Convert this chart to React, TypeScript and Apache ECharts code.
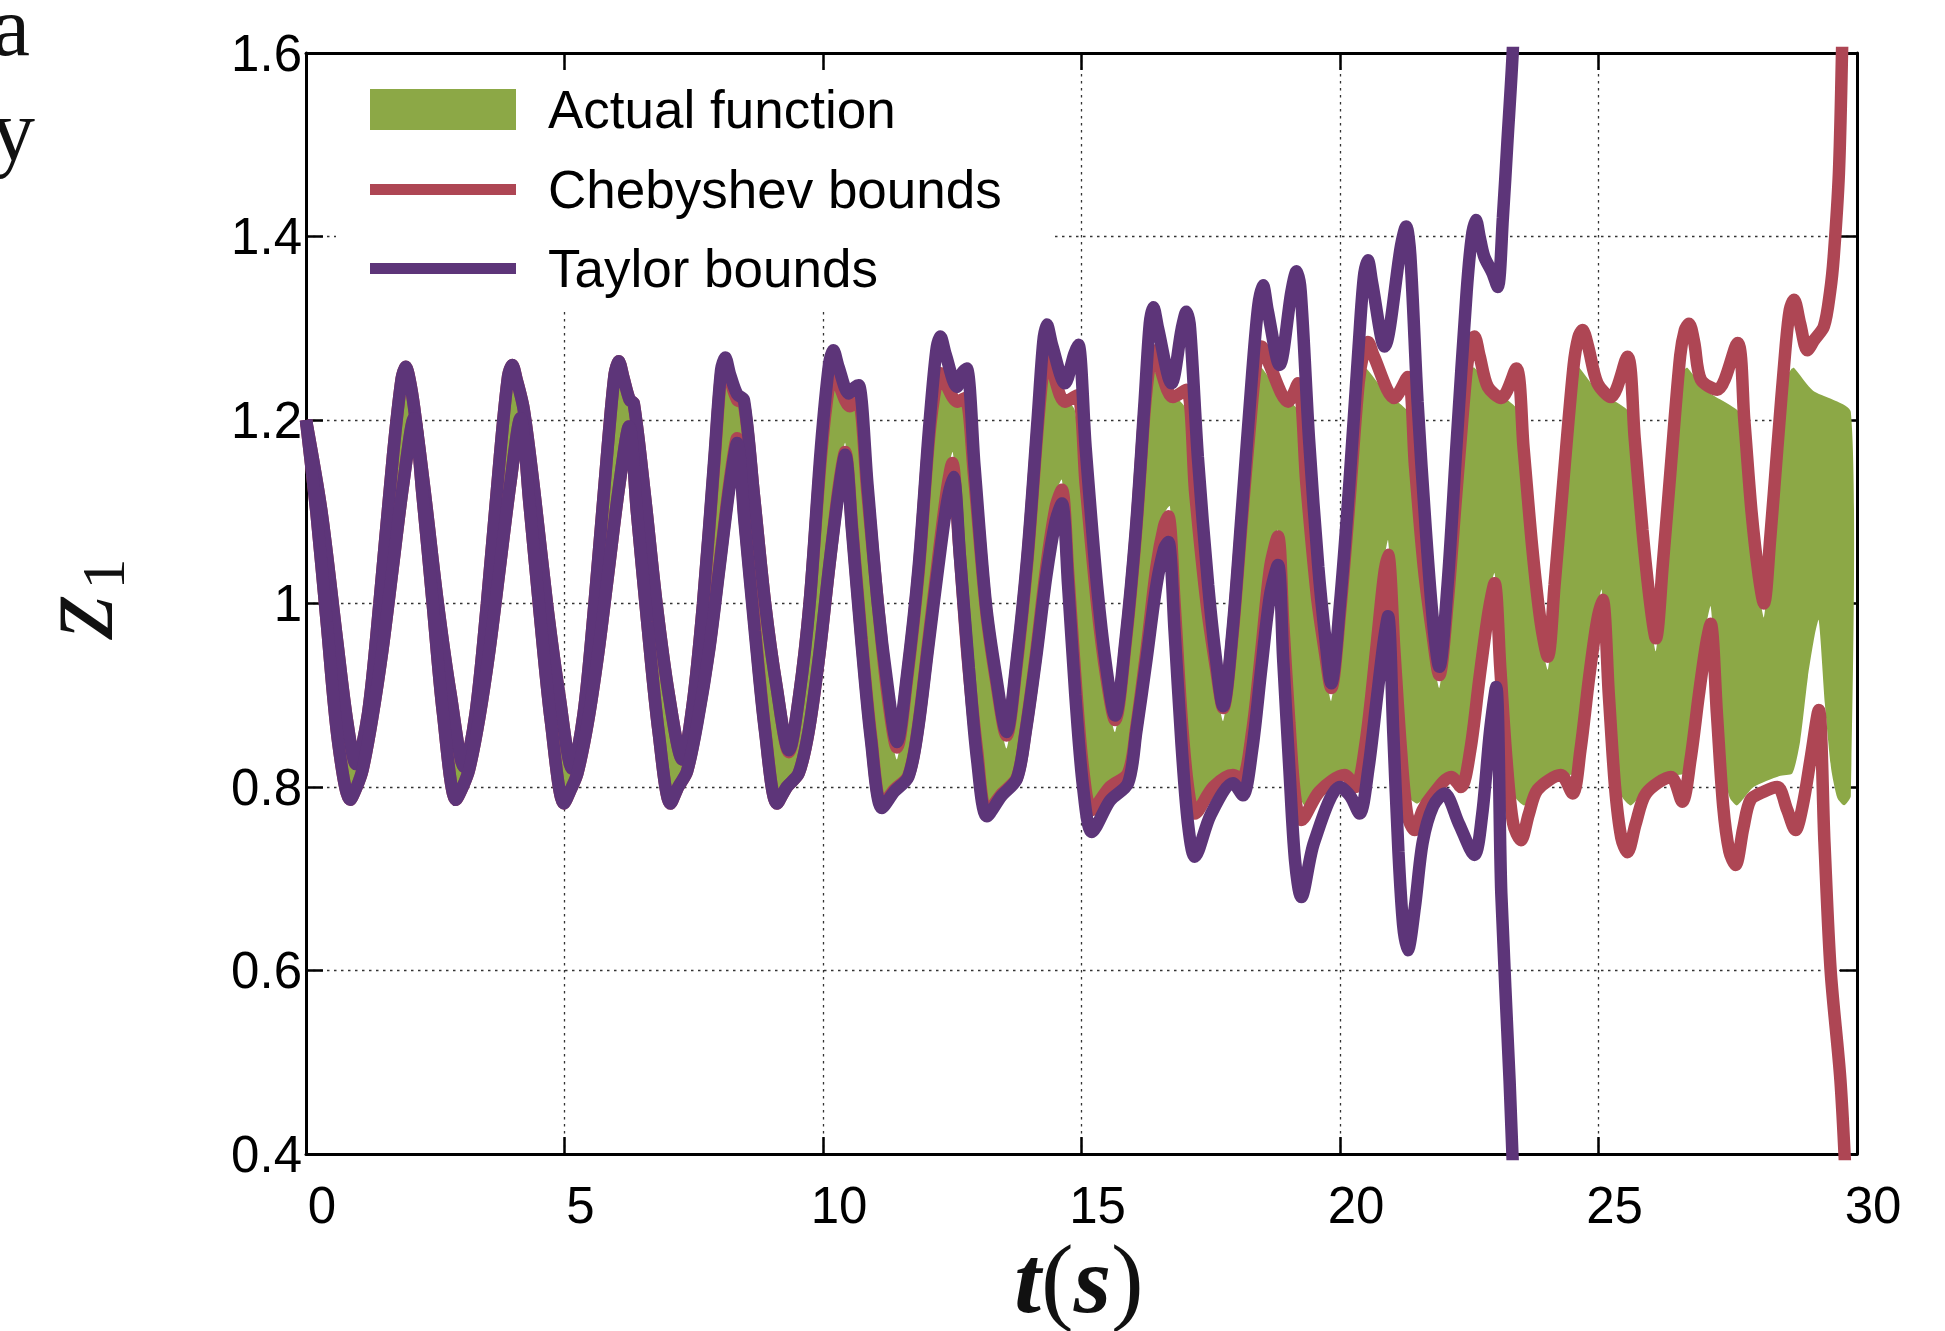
import React, { useEffect, useRef } from 'react';
import * as echarts from 'echarts';

const GREEN = '#8ca846';
const RED = '#ae4654';
const PURPLE = '#5d3579';

const legendNames = ['Actual function', 'Chebyshev bounds', 'Taylor bounds'];
const xTitle = ['t', '(', 's', ')'];

// shared early part (all upper bounds coincide)
const upperEarly = [
  [0, 1.2], [0.3, 1.1], [0.6, 0.96], [0.8, 0.87], [0.966, 0.825],
  [1.2, 0.88], [1.42, 1.0], [1.68, 1.16], [1.85, 1.245], [1.93, 1.258], [2.0, 1.245], [2.09, 1.214],
  [2.3, 1.12], [2.55, 1.0], [2.8, 0.9], [3.06, 0.822],
  [3.28, 0.88], [3.5, 1.0], [3.75, 1.16], [3.91, 1.248], [3.99, 1.26], [4.07, 1.245], [4.21, 1.212],
  [4.42, 1.12], [4.66, 1.0], [4.9, 0.9], [5.15, 0.82],
  [5.37, 0.88], [5.58, 1.0], [5.82, 1.16], [5.97, 1.25], [6.05, 1.264], [6.14, 1.246], [6.26, 1.222], [6.34, 1.218],
  [6.55, 1.12], [6.78, 1.0], [7.02, 0.9], [7.28, 0.83],
];

// shared early part (all lower bounds coincide)
const lowerEarly = [
  [0, 1.2], [0.2, 1.1], [0.4, 0.98], [0.62, 0.85], [0.856, 0.786], [0.98, 0.8], [1.095, 0.819],
  [1.28, 0.875], [1.48, 0.95], [1.68, 1.04], [1.88, 1.13], [2.09, 1.202],
  [2.25, 1.12], [2.45, 1.0], [2.65, 0.88], [2.9, 0.786], [3.03, 0.8], [3.155, 0.819],
  [3.35, 0.875], [3.55, 0.95], [3.75, 1.04], [3.95, 1.13], [4.15, 1.202],
  [4.32, 1.11], [4.52, 0.99], [4.74, 0.87], [4.99, 0.782], [5.12, 0.797], [5.25, 0.815],
  [5.45, 0.87], [5.65, 0.945], [5.85, 1.035], [6.05, 1.125], [6.25, 1.193],
  [6.4, 1.1], [6.6, 0.98], [6.82, 0.86], [7.05, 0.782], [7.2, 0.8], [7.37, 0.817],
];

const taylorUpperLate = [
  [7.48, 0.89], [7.68, 1.0], [7.9, 1.16], [8.03, 1.255], [8.11, 1.268], [8.2, 1.25], [8.34, 1.228], [8.47, 1.222],
  [8.66, 1.12], [8.88, 1.0], [9.1, 0.91], [9.34, 0.84],
  [9.54, 0.9], [9.74, 1.0], [9.96, 1.17], [10.12, 1.262], [10.2, 1.276], [10.3, 1.258], [10.5, 1.229], [10.62, 1.236], [10.69, 1.238],
  [10.86, 1.13], [11.06, 1.0], [11.25, 0.91], [11.43, 0.849],
  [11.62, 0.92], [11.85, 1.04], [12.05, 1.19], [12.19, 1.275], [12.27, 1.291], [12.37, 1.272], [12.59, 1.236], [12.7, 1.252], [12.78, 1.256],
  [12.93, 1.15], [13.15, 1.0], [13.35, 0.92], [13.55, 0.86],
  [13.73, 0.93], [13.95, 1.05], [14.15, 1.2], [14.26, 1.285], [14.33, 1.304], [14.43, 1.282], [14.68, 1.24], [14.86, 1.272], [14.94, 1.282],
  [15.08, 1.17], [15.3, 1.02], [15.48, 0.93], [15.65, 0.878],
  [15.85, 0.96], [16.05, 1.08], [16.22, 1.22], [16.32, 1.305], [16.39, 1.323], [16.48, 1.3], [16.74, 1.24], [16.94, 1.3], [17.03, 1.318], [17.1, 1.3],
  [17.25, 1.16], [17.45, 1.02], [17.6, 0.94], [17.74, 0.888],
  [17.92, 0.97], [18.1, 1.1], [18.3, 1.25], [18.42, 1.325], [18.51, 1.347], [18.6, 1.32], [18.83, 1.26], [19.06, 1.34], [19.16, 1.362], [19.24, 1.34],
  [19.4, 1.18], [19.58, 1.04], [19.72, 0.96], [19.83, 0.913],
  [20.0, 1.0], [20.18, 1.13], [20.36, 1.28], [20.46, 1.355], [20.54, 1.374], [20.62, 1.35], [20.86, 1.28], [21.18, 1.39], [21.28, 1.411], [21.36, 1.38],
  [21.5, 1.22], [21.66, 1.08], [21.8, 0.98], [21.92, 0.931],
  [22.08, 1.02], [22.25, 1.17], [22.45, 1.34], [22.55, 1.4], [22.63, 1.418], [22.7, 1.4], [22.79, 1.378], [22.95, 1.36], [23.05, 1.345],
  [23.15, 1.42], [23.24, 1.505], [23.34, 1.6], [23.45, 1.75], [23.55, 1.9],
];

const taylorLowerLate = [
  [7.57, 0.87], [7.8, 0.95], [8.0, 1.04], [8.2, 1.13], [8.34, 1.175],
  [8.48, 1.09], [8.68, 0.97], [8.88, 0.86], [9.11, 0.782], [9.3, 0.8], [9.53, 0.815],
  [9.72, 0.86], [9.92, 0.94], [10.12, 1.04], [10.3, 1.12], [10.43, 1.162],
  [10.56, 1.08], [10.74, 0.96], [10.93, 0.85], [11.14, 0.777], [11.38, 0.795], [11.65, 0.811],
  [11.83, 0.86], [12.03, 0.95], [12.23, 1.04], [12.4, 1.11], [12.52, 1.138],
  [12.65, 1.05], [12.82, 0.93], [12.98, 0.83], [13.17, 0.768], [13.45, 0.79], [13.75, 0.809],
  [13.92, 0.86], [14.12, 0.94], [14.32, 1.03], [14.5, 1.09], [14.62, 1.109],
  [14.74, 1.02], [14.88, 0.9], [15.03, 0.8], [15.2, 0.751], [15.55, 0.785], [15.9, 0.804],
  [16.06, 0.86], [16.26, 0.94], [16.45, 1.02], [16.6, 1.06], [16.68, 1.067],
  [16.8, 0.97], [16.93, 0.85], [17.06, 0.76], [17.19, 0.724], [17.5, 0.77], [17.93, 0.804], [18.12, 0.791],
  [18.3, 0.84], [18.48, 0.93], [18.65, 1.01], [18.8, 1.042],
  [18.9, 0.94], [19.02, 0.82], [19.13, 0.72], [19.25, 0.68], [19.5, 0.74], [20.0, 0.8], [20.2, 0.79], [20.38, 0.771],
  [20.55, 0.82], [20.72, 0.9], [20.85, 0.96], [20.93, 0.986],
  [21.03, 0.86], [21.13, 0.73], [21.22, 0.65], [21.31, 0.622], [21.45, 0.67], [21.6, 0.74], [21.8, 0.779], [22.02, 0.793], [22.3, 0.76], [22.6, 0.726],
  [22.75, 0.77], [22.9, 0.86], [23.02, 0.909], [23.12, 0.684], [23.28, 0.48], [23.4, 0.3],
];

const chebUpperLate = [
  [7.48, 0.89], [7.68, 1.0], [7.9, 1.155], [8.03, 1.25], [8.11, 1.262], [8.2, 1.245], [8.34, 1.222], [8.47, 1.218],
  [8.66, 1.12], [8.88, 1.0], [9.1, 0.91], [9.34, 0.838],
  [9.54, 0.9], [9.74, 1.0], [9.96, 1.16], [10.12, 1.24], [10.2, 1.254], [10.3, 1.24], [10.52, 1.215], [10.62, 1.219], [10.69, 1.22],
  [10.86, 1.12], [11.06, 1.0], [11.25, 0.9], [11.43, 0.843],
  [11.62, 0.915], [11.85, 1.035], [12.05, 1.18], [12.19, 1.24], [12.27, 1.251], [12.37, 1.24], [12.6, 1.22], [12.75, 1.224],
  [12.92, 1.14], [13.15, 0.995], [13.35, 0.915], [13.55, 0.856],
  [13.73, 0.925], [13.95, 1.045], [14.15, 1.19], [14.26, 1.255], [14.33, 1.269], [14.43, 1.255], [14.68, 1.22], [14.92, 1.227],
  [15.08, 1.13], [15.3, 1.0], [15.48, 0.92], [15.65, 0.873],
  [15.85, 0.955], [16.05, 1.075], [16.22, 1.21], [16.32, 1.262], [16.39, 1.276], [16.5, 1.26], [16.77, 1.225], [17.03, 1.233],
  [17.2, 1.12], [17.42, 1.0], [17.6, 0.93], [17.74, 0.886],
  [17.92, 0.965], [18.1, 1.09], [18.3, 1.22], [18.4, 1.27], [18.48, 1.28], [18.6, 1.265], [19.0, 1.22], [19.19, 1.24],
  [19.35, 1.13], [19.55, 1.01], [19.7, 0.95], [19.83, 0.908],
  [20.0, 0.99], [20.18, 1.11], [20.36, 1.24], [20.46, 1.275], [20.54, 1.285], [20.65, 1.27], [21.05, 1.224], [21.31, 1.247],
  [21.45, 1.15], [21.62, 1.04], [21.78, 0.97], [21.92, 0.922],
  [22.08, 1.0], [22.25, 1.12], [22.45, 1.255], [22.53, 1.283], [22.6, 1.291], [22.7, 1.27], [22.86, 1.236], [23.12, 1.224], [23.41, 1.256],
  [23.55, 1.17], [23.72, 1.06], [23.88, 0.98], [24.02, 0.942],
  [24.15, 1.02], [24.33, 1.14], [24.52, 1.26], [24.61, 1.29], [24.69, 1.298], [24.8, 1.28], [24.98, 1.24], [25.24, 1.225], [25.56, 1.269],
  [25.7, 1.18], [25.85, 1.08], [26.0, 1.0], [26.11, 0.962],
  [26.24, 1.04], [26.4, 1.15], [26.58, 1.27], [26.67, 1.298], [26.75, 1.305], [26.85, 1.285], [26.98, 1.244], [27.3, 1.233], [27.69, 1.284],
  [27.82, 1.2], [27.96, 1.1], [28.1, 1.03], [28.2, 1.0],
  [28.32, 1.07], [28.46, 1.17], [28.62, 1.28], [28.7, 1.32], [28.78, 1.331], [28.9, 1.305], [29.04, 1.276], [29.17, 1.287], [29.36, 1.302],
  [29.48, 1.34], [29.55, 1.378], [29.65, 1.469], [29.71, 1.6], [29.8, 1.85],
];

const chebLowerLate = [
  [7.57, 0.872], [7.8, 0.952], [8.0, 1.043], [8.2, 1.135], [8.34, 1.18],
  [8.48, 1.095], [8.68, 0.975], [8.88, 0.862], [9.11, 0.782], [9.3, 0.8], [9.53, 0.815],
  [9.72, 0.86], [9.92, 0.94], [10.12, 1.04], [10.3, 1.125], [10.43, 1.165],
  [10.56, 1.085], [10.74, 0.965], [10.93, 0.855], [11.14, 0.78], [11.38, 0.797], [11.65, 0.812],
  [11.83, 0.862], [12.03, 0.955], [12.23, 1.05], [12.4, 1.125], [12.5, 1.153],
  [12.63, 1.065], [12.8, 0.94], [12.98, 0.84], [13.17, 0.772], [13.45, 0.792], [13.75, 0.81],
  [13.92, 0.862], [14.12, 0.945], [14.32, 1.04], [14.5, 1.105], [14.62, 1.124],
  [14.74, 1.035], [14.88, 0.92], [15.03, 0.82], [15.2, 0.775], [15.55, 0.8], [15.9, 0.815],
  [16.06, 0.865], [16.26, 0.95], [16.45, 1.04], [16.6, 1.085], [16.68, 1.095],
  [16.8, 1.0], [16.93, 0.88], [17.06, 0.8], [17.19, 0.771], [17.55, 0.8], [17.93, 0.813], [18.1, 0.808],
  [18.3, 0.86], [18.48, 0.95], [18.65, 1.04], [18.8, 1.073],
  [18.9, 0.98], [19.02, 0.87], [19.13, 0.79], [19.25, 0.764], [19.6, 0.795], [20.09, 0.813], [20.3, 0.8],
  [20.5, 0.85], [20.7, 0.95], [20.85, 1.03], [20.93, 1.053],
  [21.05, 0.95], [21.18, 0.84], [21.3, 0.77], [21.44, 0.753], [21.6, 0.775], [21.76, 0.789], [22.15, 0.811], [22.34, 0.8],
  [22.52, 0.84], [22.7, 0.92], [22.87, 0.99], [22.99, 1.022],
  [23.1, 0.93], [23.22, 0.83], [23.35, 0.76], [23.5, 0.742], [23.65, 0.77], [23.82, 0.797], [24.27, 0.813], [24.5, 0.793],
  [24.65, 0.84], [24.82, 0.92], [24.97, 0.98], [25.08, 1.004],
  [25.2, 0.9], [25.32, 0.8], [25.44, 0.745], [25.56, 0.729], [25.72, 0.76], [25.92, 0.793], [26.4, 0.811], [26.62, 0.784],
  [26.78, 0.83], [26.94, 0.9], [27.08, 0.955], [27.17, 0.978],
  [27.29, 0.88], [27.41, 0.78], [27.53, 0.73], [27.65, 0.715], [27.8, 0.755], [27.94, 0.786], [28.2, 0.795], [28.46, 0.8], [28.65, 0.775], [28.81, 0.753],
  [28.95, 0.78], [29.1, 0.83], [29.26, 0.884], [29.37, 0.74], [29.49, 0.6], [29.68, 0.48], [29.8, 0.35],
];

const actualUpperLate = [
  [7.48, 0.89], [7.68, 1.0], [7.9, 1.155], [8.03, 1.245], [8.11, 1.255], [8.2, 1.24], [8.47, 1.215],
  [8.66, 1.115], [8.88, 0.995], [9.1, 0.905], [9.34, 0.835],
  [9.54, 0.895], [9.76, 1.0], [9.98, 1.15], [10.12, 1.228], [10.2, 1.244], [10.4, 1.228], [10.67, 1.211],
  [10.84, 1.11], [11.04, 0.99], [11.25, 0.885], [11.43, 0.83],
  [11.62, 0.9], [11.85, 1.02], [12.05, 1.165], [12.19, 1.235], [12.27, 1.245], [12.45, 1.23], [12.78, 1.208],
  [12.92, 1.12], [13.14, 0.985], [13.35, 0.9], [13.55, 0.842],
  [13.73, 0.91], [13.95, 1.03], [14.15, 1.175], [14.26, 1.24], [14.33, 1.249], [14.55, 1.232], [14.87, 1.211],
  [15.06, 1.1], [15.29, 0.99], [15.48, 0.905], [15.65, 0.86],
  [15.85, 0.94], [16.05, 1.06], [16.22, 1.195], [16.32, 1.245], [16.39, 1.254], [16.65, 1.235], [17.03, 1.211],
  [17.18, 1.1], [17.41, 0.99], [17.6, 0.915], [17.74, 0.872],
  [17.92, 0.95], [18.1, 1.075], [18.3, 1.205], [18.4, 1.25], [18.48, 1.257], [18.8, 1.232], [19.22, 1.208],
  [19.34, 1.11], [19.54, 1.0], [19.7, 0.935], [19.83, 0.894],
  [20.0, 0.975], [20.18, 1.095], [20.36, 1.225], [20.45, 1.252], [20.51, 1.256], [20.85, 1.232], [21.34, 1.207],
  [21.44, 1.13], [21.61, 1.025], [21.78, 0.955], [21.92, 0.908],
  [22.08, 0.985], [22.25, 1.105], [22.45, 1.24], [22.55, 1.256], [22.6, 1.257], [22.95, 1.235], [23.47, 1.209],
  [23.55, 1.15], [23.72, 1.045], [23.88, 0.965], [24.02, 0.928],
  [24.15, 1.005], [24.33, 1.125], [24.52, 1.235], [24.6, 1.255], [24.63, 1.257], [24.98, 1.232], [25.59, 1.209],
  [25.68, 1.16], [25.84, 1.06], [26.0, 0.985], [26.11, 0.948],
  [26.24, 1.025], [26.4, 1.135], [26.58, 1.24], [26.68, 1.256], [26.72, 1.257], [27.08, 1.232], [27.72, 1.209],
  [27.8, 1.18], [27.95, 1.085], [28.1, 1.015], [28.2, 0.985],
  [28.32, 1.055], [28.46, 1.155], [28.62, 1.245], [28.74, 1.256], [28.78, 1.257], [29.15, 1.232], [29.88, 1.209],
];

const actualLowerLate = [
  [7.57, 0.872], [7.8, 0.955], [8.0, 1.045], [8.2, 1.14], [8.34, 1.185],
  [8.48, 1.1], [8.68, 0.98], [8.88, 0.865], [9.11, 0.785], [9.3, 0.802], [9.53, 0.817],
  [9.72, 0.862], [9.92, 0.945], [10.12, 1.05], [10.3, 1.14], [10.43, 1.175],
  [10.56, 1.095], [10.74, 0.975], [10.93, 0.862], [11.14, 0.782], [11.38, 0.8], [11.65, 0.814],
  [11.83, 0.865], [12.03, 0.96], [12.23, 1.06], [12.4, 1.14], [12.51, 1.165],
  [12.63, 1.075], [12.8, 0.95], [12.98, 0.85], [13.17, 0.776], [13.45, 0.795], [13.75, 0.812],
  [13.92, 0.865], [14.12, 0.95], [14.32, 1.05], [14.5, 1.12], [14.62, 1.135],
  [14.74, 1.045], [14.88, 0.93], [15.03, 0.83], [15.2, 0.78], [15.55, 0.802], [15.9, 0.817],
  [16.06, 0.868], [16.26, 0.955], [16.45, 1.05], [16.62, 1.1], [16.71, 1.106],
  [16.82, 1.0], [16.95, 0.88], [17.08, 0.8], [17.22, 0.78], [17.6, 0.805], [17.95, 0.815], [18.1, 0.812],
  [18.3, 0.865], [18.48, 0.96], [18.65, 1.05], [18.8, 1.08],
  [18.9, 0.985], [19.03, 0.87], [19.17, 0.8], [19.32, 0.78], [19.7, 0.8], [20.1, 0.815], [20.3, 0.81],
  [20.5, 0.86], [20.7, 0.965], [20.85, 1.045], [20.93, 1.069],
  [21.05, 0.96], [21.18, 0.855], [21.32, 0.79], [21.5, 0.782], [21.8, 0.797], [22.15, 0.813], [22.35, 0.812],
  [22.52, 0.85], [22.7, 0.935], [22.87, 1.005], [22.99, 1.033],
  [23.1, 0.94], [23.22, 0.845], [23.38, 0.79], [23.57, 0.78], [23.9, 0.8], [24.3, 0.812], [24.55, 0.815],
  [24.68, 0.85], [24.84, 0.93], [24.97, 0.99], [25.06, 1.015],
  [25.18, 0.92], [25.3, 0.83], [25.45, 0.79], [25.63, 0.78], [25.95, 0.8], [26.4, 0.812], [26.65, 0.815],
  [26.8, 0.85], [26.95, 0.92], [27.08, 0.975], [27.17, 0.997],
  [27.29, 0.9], [27.41, 0.82], [27.54, 0.788], [27.68, 0.78], [28.0, 0.8], [28.5, 0.812], [28.75, 0.815],
  [28.9, 0.85], [29.05, 0.92], [29.18, 0.965], [29.26, 0.982],
  [29.38, 0.89], [29.5, 0.82], [29.62, 0.788], [29.75, 0.78], [29.88, 0.79],
];

const TICK_FONT = 'Liberation Sans';

export default function App() {
  const ref = useRef<HTMLDivElement>(null);

  useEffect(() => {
    const chart = echarts.init(ref.current as HTMLDivElement, null, { renderer: 'svg' });

    const taylorUpper = [...upperEarly, ...taylorUpperLate];
    const taylorLower = [...lowerEarly, ...taylorLowerLate];
    const chebUpper = [...upperEarly, ...chebUpperLate];
    const chebLower = [...lowerEarly, ...chebLowerLate];
    const actualUpper = [...upperEarly, ...actualUpperLate];
    const actualLower = [...lowerEarly, ...actualLowerLate];

    const axisLine = { show: true, onZero: false, lineStyle: { color: '#000', width: 3 } };
    const axisTick = { show: true, inside: true, length: 17, lineStyle: { color: '#000', width: 2.5 } };
    const splitLine = { show: true, lineStyle: { color: '#333', width: 1.3, type: [2.5, 4.5] } };

    const lineSeries = (data: number[][], color: string, z: number) => ({
      type: 'line',
      data,
      showSymbol: false,
      symbol: 'none',
      clip: true,
      smooth: 0.3,
      z,
      lineStyle: { color, width: 12.5, join: 'bevel' },
      itemStyle: { color },
      silent: true,
    });

    const legendTextStyle = (t: string, y: number) => ({
      type: 'text',
      x: 548,
      y,
      z: 20,
      style: {
        text: t,
        fontFamily: TICK_FONT,
        fontSize: 53,
        fill: '#000',
        align: 'left',
        verticalAlign: 'middle',
      },
    });

    chart.setOption({
      animation: false,
      backgroundColor: '#fff',
      grid: { left: 306, top: 53, right: 88, bottom: 177, show: false, outerBoundsMode: 'none' },
      xAxis: [
        {
          type: 'value', min: 0, max: 30, interval: 5, position: 'bottom',
          axisLine, axisTick, splitLine,
          axisLabel: { fontSize: 51, lineHeight: 51, fontFamily: TICK_FONT, color: '#000', margin: 26, padding: [0, 0, 0, 32] },
        },
        {
          type: 'value', min: 0, max: 30, interval: 5, position: 'top',
          axisLine, axisTick, splitLine: { show: false }, axisLabel: { show: false },
        },
      ],
      yAxis: [
        {
          type: 'value', min: 0.4, max: 1.6, interval: 0.2, position: 'left',
          axisLine, axisTick, splitLine,
          axisLabel: {
            fontSize: 51, fontFamily: TICK_FONT, color: '#000', margin: 4,
            formatter: (v: number) => String(Math.round(v * 10) / 10),
          },
        },
        {
          type: 'value', min: 0.4, max: 1.6, interval: 0.2, position: 'right',
          axisLine, axisTick, splitLine: { show: false }, axisLabel: { show: false },
        },
      ],
      series: [
        {
          type: 'custom',
          name: legendNames[0],
          coordinateSystem: 'cartesian2d',
          silent: true,
          z: 2,
          data: [[15, 1]],
          renderItem: (_params: any, api: any) => {
            const pts = actualUpper
              .map((p) => api.coord(p))
              .concat(actualLower.slice().reverse().map((p) => api.coord(p)));
            return { type: 'polygon', shape: { points: pts, smooth: 0.2 }, style: { fill: GREEN, stroke: null } };
          },
        },
        lineSeries(chebUpper, RED, 3),
        lineSeries(chebLower, RED, 3),
        lineSeries(taylorUpper, PURPLE, 4),
        lineSeries(taylorLower, PURPLE, 4),
      ],
      graphic: [
        { type: 'rect', z: 1, shape: { x: 336, y: 71, width: 716, height: 239 }, style: { fill: '#fff' } },
        { type: 'rect', z: 20, shape: { x: 370, y: 89, width: 146, height: 41 }, style: { fill: GREEN } },
        { type: 'line', z: 20, shape: { x1: 370, y1: 189.5, x2: 516, y2: 189.5 }, style: { stroke: RED, lineWidth: 11 } },
        { type: 'line', z: 20, shape: { x1: 370, y1: 268.5, x2: 516, y2: 268.5 }, style: { stroke: PURPLE, lineWidth: 11 } },
        legendTextStyle(legendNames[0], 109.5),
        legendTextStyle(legendNames[1], 189.5),
        legendTextStyle(legendNames[2], 268.5),
        {
          type: 'text', x: 1079, y: 1279, z: 20,
          style: {
            text: `{bi|${xTitle[0]}}{n|${xTitle[1]}}{bi|${xTitle[2]}}{n|${xTitle[3]}}`,
            align: 'center', verticalAlign: 'middle',
            rich: {
              bi: { fontFamily: 'Liberation Serif', fontStyle: 'italic', fontWeight: 'bold', fontSize: 96, lineHeight: 88, fill: '#111' },
              n: { fontFamily: 'Liberation Serif', fontSize: 98, lineHeight: 88, fill: '#111' },
            },
          },
        },
        {
          type: 'text', x: 74, y: 617, rotation: Math.PI / 2, z: 20,
          style: { text: 'z', fontFamily: 'Liberation Serif', fontStyle: 'italic', fontSize: 112, fill: '#111', align: 'center', verticalAlign: 'middle' },
        },
        {
          type: 'text', x: 103, y: 574, rotation: Math.PI / 2, z: 20,
          style: { text: '1', fontFamily: 'Liberation Serif', fontSize: 62, fill: '#111', align: 'center', verticalAlign: 'middle' },
        },
        {
          type: 'text', x: 30, y: 26, z: 20,
          style: { text: 'a', fontFamily: 'Liberation Serif', fontSize: 85, fill: '#111', align: 'right', verticalAlign: 'middle' },
        },
        {
          type: 'text', x: 35, y: 130, z: 20,
          style: { text: 'y', fontFamily: 'Liberation Serif', fontSize: 88, fill: '#111', align: 'right', verticalAlign: 'middle' },
        },
      ],
    });

    return () => chart.dispose();
  }, []);

  return (
    <div
      ref={ref}
      style={{ position: 'absolute', left: 0, top: 0, width: 1945, height: 1331, background: '#fff' }}
    />
  );
}
